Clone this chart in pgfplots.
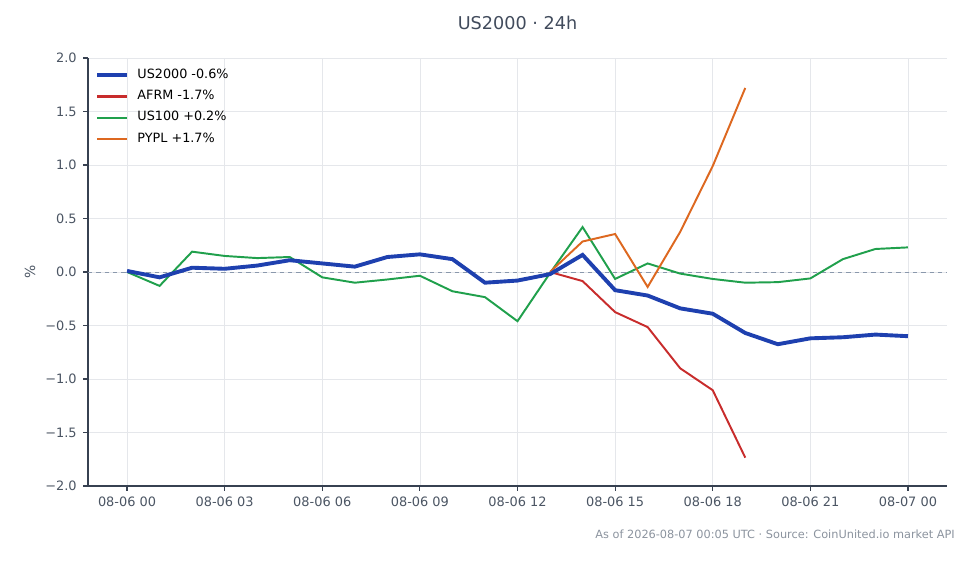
\documentclass[border=0pt]{standalone}
\usepackage{pgfplots}
\pgfplotsset{compat=1.18}
\usepackage{pgfplotstable}
\usepackage{fontspec}
\setmainfont{DejaVu Sans}
\definecolor{cblue}{RGB}{30,64,175}
\definecolor{cred}{RGB}{200,44,44}
\definecolor{cgreen}{RGB}{32,160,76}
\definecolor{corange}{RGB}{221,104,32}
\definecolor{ctick}{RGB}{75,85,99}
\definecolor{cspine}{RGB}{55,65,81}
\definecolor{cgrid}{RGB}{229,231,235}
\definecolor{czero}{RGB}{138,152,172}
\definecolor{cfoot}{RGB}{139,147,158}
\definecolor{ctitle}{RGB}{65,75,92}

\pgfplotstableread{
x us2000 us100
0 0.01 0.00
1 -0.05 -0.13
2 0.04 0.19
3 0.03 0.15
4 0.06 0.13
5 0.11 0.14
6 0.08 -0.05
7 0.05 -0.10
8 0.14 -0.07
9 0.165 -0.035
10 0.12 -0.18
11 -0.10 -0.235
12 -0.08 -0.46
13 -0.02 -0.01
14 0.16 0.42
15 -0.17 -0.065
16 -0.22 0.08
17 -0.34 -0.015
18 -0.39 -0.065
19 -0.57 -0.10
20 -0.675 -0.095
21 -0.62 -0.06
22 -0.61 0.12
23 -0.585 0.215
24 -0.60 0.23
}\maintable

\pgfplotstableread{
x afrm pypl
13 0.0 0.0
14 -0.085 0.285
15 -0.375 0.355
16 -0.515 -0.14
17 -0.90 0.375
18 -1.105 0.99
19 -1.735 1.72
}\stocktable

\begin{document}
\begin{tikzpicture}
\path[use as bounding box] (0,0) rectangle (704.88pt,406.08pt);
\begin{axis}[
  at={(63.36pt,56.16pt)}, anchor=south west,
  scale only axis, width=618.48pt, height=308.16pt,
  xmin=-1.2, xmax=25.2, ymin=-2, ymax=2,
  axis x line*=bottom, axis y line*=left,
  axis line style={cspine, line width=0.8pt, -},
  xtick={0,3,6,9,12,15,18,21,24},
  xticklabels={08-06 00,08-06 03,08-06 06,08-06 09,08-06 12,08-06 15,08-06 18,08-06 21,08-07 00},
  ytick={-2,-1.5,-1,-0.5,0,0.5,1,1.5,2},
  yticklabels={−2.0,−1.5,−1.0,−0.5,0.0,0.5,1.0,1.5,2.0},
  tick align=outside, major tick length=3.6pt,
  tick style={cspine, line width=0.8pt},
  ticklabel style={font=\fontsize{9.3}{11}\selectfont, text=ctick},
  xticklabel style={yshift=-1pt},
  yticklabel style={xshift=-1pt},
  grid=major, grid style={cgrid, line width=0.5pt},
  ylabel={\%}, ylabel style={at={(axis description cs:-0.0675,0.5)}, anchor=center, font=\fontsize{10}{12}\selectfont, text=ctick},
  title={US2000 · 24h}, title style={at={(axis description cs:0.5,1.063)}, anchor=center, font=\fontsize{12.7}{15}\selectfont, text=ctitle},
  legend cell align=left,
  legend style={at={(axis description cs:0.005,0.988)}, anchor=north west, draw=none, fill=none,
    font=\fontsize{9.2}{11}\selectfont, row sep=2.2pt, column sep=3.9pt, inner sep=2pt,
    nodes={text height=6.8pt, text depth=2.3pt}},
  legend image code/.code={\draw[#1] (0pt,0pt) -- (21.6pt,0pt);},
]
\addlegendimage{cblue, line width=2.8pt}
\addlegendentry{US2000 -0.6\%}
\addlegendimage{cred, line width=1.5pt}
\addlegendentry{AFRM -1.7\%}
\addlegendimage{cgreen, line width=1.5pt}
\addlegendentry{US100 +0.2\%}
\addlegendimage{corange, line width=1.5pt}
\addlegendentry{PYPL +1.7\%}
\addplot[czero, dashed, line width=0.7pt, forget plot] coordinates {(-1.2,0) (25.2,0)};
\addplot[cred, line width=1.4pt, forget plot] table[x=x, y=afrm] {\stocktable};
\addplot[cgreen, line width=1.4pt, forget plot] table[x=x, y=us100] {\maintable};
\addplot[corange, line width=1.4pt, forget plot] table[x=x, y=pypl] {\stocktable};
\addplot[cblue, line width=2.8pt, forget plot] table[x=x, y=us2000] {\maintable};
\end{axis}
\node[anchor=east, inner sep=0pt, font=\fontsize{8.15}{10}\selectfont, text=cfoot] at (687.6pt,21.6pt) {As of 2026-08-07 00:05 UTC · Source: CoinUnited.io market API};
\end{tikzpicture}
\end{document}
